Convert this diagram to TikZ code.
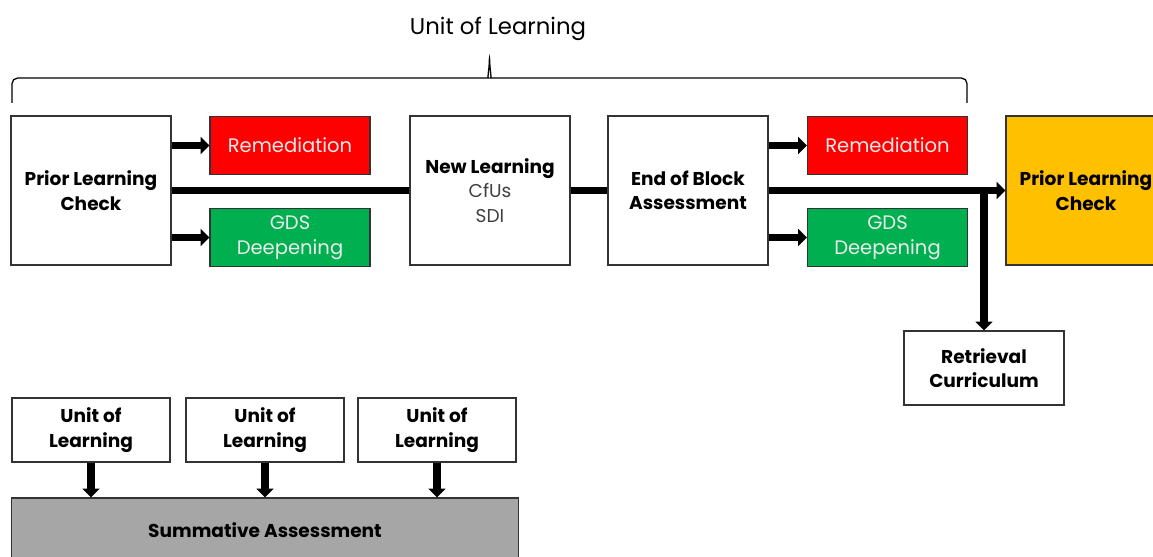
\documentclass[tikz,border=0pt]{standalone}
\usepackage{fontspec}
\setmainfont{Poppins}
\usetikzlibrary{arrows.meta}
\definecolor{remred}{HTML}{FF0000}
\definecolor{gdsgreen}{HTML}{00B050}
\definecolor{plcyellow}{HTML}{FFC000}
\definecolor{sumgray}{HTML}{A6A6A6}
\begin{document}
\begin{tikzpicture}[x=0.025cm,y=-0.025cm,
    box/.style={draw=black!80,line width=0.8pt,fill=white,align=center,inner sep=0pt,
      minimum width=4cm,minimum height=3.725cm,font=\fontsize{13.2}{17.4}\selectfont\bfseries},
    sidebox/.style={box,minimum height=1.47cm,text=white!92!black,font=\fontsize{13.9}{17.8}\selectfont},
    unitbox/.style={box,minimum width=3.95cm,minimum height=1.6cm},
    flow/.style={line width=5pt},
    flowarrow/.style={flow,-{Triangle[length=0.22cm,width=0.42cm]}}]
  \clip (0,0) rectangle (1153,557);
  \node[font=\fontsize{16.2}{19}\selectfont] (title) at (498,29) {Unit of Learning};
  \draw[line width=0.9pt,rounded corners=4pt] (12,103) -- (12,78) -- (483,78)
    .. controls (487,78) and (489,72) .. (489.5,55)
    .. controls (490,72) and (492,78) .. (496,78) -- (967,78) -- (967,103);
  \node[box] (plc1) at (91,190.5) {Prior Learning\\Check};
  \node[sidebox,fill=remred] (rem1) at (290,145.5) {Remediation};
  \node[sidebox,fill=gdsgreen] (gds1) at (290,237.5) {GDS\\Deepening};
  \node[box] (newl) at (490,190.5) {New Learning\\\mdseries\color{black!75}CfUs\\\mdseries\color{black!75}SDI};
  \node[box] (eob) at (688,190.5) {End of Block\\Assessment};
  \node[sidebox,fill=remred] (rem2) at (887.5,145.5) {Remediation};
  \node[sidebox,fill=gdsgreen] (gds2) at (887.5,237.5) {GDS\\Deepening};
  \node[box,fill=plcyellow] (plc2) at (1086,190.5) {Prior Learning\\Check};
  \node[box,minimum height=1.85cm] (ret) at (984,368) {Retrieval\\Curriculum};
  \foreach \from/\to in {plc1/rem1,plc1/gds1,eob/rem2,eob/gds2}
    \draw[flowarrow] (\from.east |- \to) -- (\to.west);
  \draw[flow] (plc1) -- (newl);
  \draw[flow] (newl) -- (eob);
  \draw[flowarrow] (eob) -- (plc2);
  \draw[flowarrow] ([yshift=2.5pt]ret.north |- eob) -- (ret.north);
  \node[unitbox] (u1) at (91,430) {Unit of\\Learning};
  \node[unitbox] (u2) at (265,430) {Unit of\\Learning};
  \node[unitbox] (u3) at (437,430) {Unit of\\Learning};
  \node[box,fill=sumgray,minimum width=12.65cm,minimum height=1.6cm] (sum) at (265,530) {Summative Assessment};
  \foreach \u in {u1,u2,u3}
    \draw[flowarrow] (\u) -- (\u |- sum.north);
\end{tikzpicture}
\end{document}
